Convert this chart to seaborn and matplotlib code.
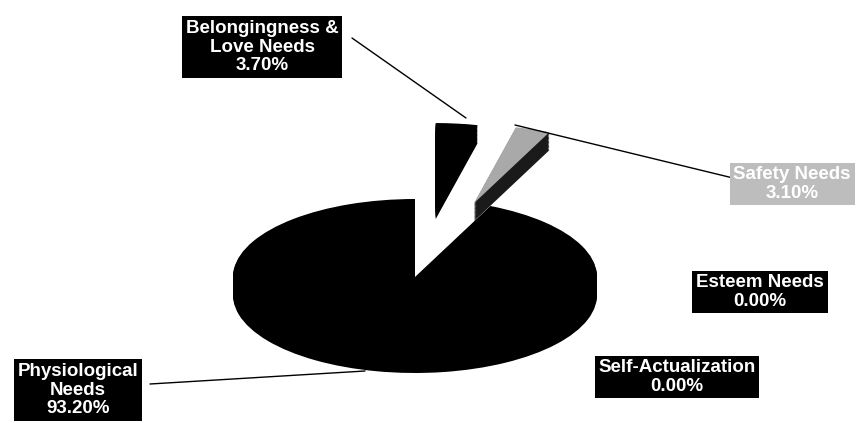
import matplotlib
matplotlib.use("Agg")
import matplotlib.pyplot as plt
import seaborn as sns
import numpy as np

# data
categories = ["Belongingness &\nLove Needs", "Safety Needs", "Esteem Needs",
              "Self-Actualization", "Physiological\nNeeds"]
values = [3.7, 3.1, 0.0, 0.0, 93.2]
explode = [0.98, 1.0, 0.0, 0.0, 0.0]
top_colors = ["black", "#a9a9a9", "black", "black", "black"]
side_colors = ["black", "#1a1a1a", "black", "black", "black"]

sns.set_style("white")
plt.rcParams["font.family"] = ["Liberation Sans", "DejaVu Sans"]

W, H = 856, 423
fig = plt.figure(figsize=(W / 100, H / 100), dpi=100)
ax = fig.add_axes([0, 0, 1, 1])

# pie center in pixels and ellipse radii
cx, cy = 415, 277
rx, ry = 182, 78
depth = 18 / ry

# extruded side, then the top face
for d in np.linspace(depth, 0.01, 14):
    ax.pie(values, explode=explode, colors=side_colors, startangle=90,
           counterclock=False, center=(0, -d), wedgeprops=dict(linewidth=0))
ax.pie(values, explode=explode, colors=top_colors, startangle=90,
       counterclock=False, wedgeprops=dict(linewidth=0))

ax.set_aspect("auto")
ax.set_xlim(-cx / rx, (W - cx) / rx)
ax.set_ylim(-(H - cy) / ry, cy / ry)
ax.axis("off")


def fx(x):
    return x / W


def fy(y):
    return 1 - y / H


labels = [f"{c}\n{v:.2f}%" for c, v in zip(categories, values)]
# label centres (pixels) and leader lines
label_pos = [(262, 47), (792, 184), (760, 292), (677, 377), (78, 390)]
box_face = ["black", "#bdbdbd", "black", "black", "black"]
leaders = {0: [(352, 38), (466, 118)],
           1: [(515, 125), (733, 178)],
           4: [(150, 384), (365, 371)]}

for i, (x, y) in enumerate(label_pos):
    fig.text(fx(x), fy(y), labels[i], ha="center", va="center", color="white",
             fontsize=13.5, fontweight="bold", linespacing=1.1,
             bbox=dict(boxstyle="square,pad=0.2", fc=box_face[i], ec="none"))

for i, pts in leaders.items():
    xs = [fx(p[0]) for p in pts]
    ys = [fy(p[1]) for p in pts]
    fig.add_artist(plt.Line2D(xs, ys, color="black", lw=1))

fig.savefig("out.png", dpi=100)
